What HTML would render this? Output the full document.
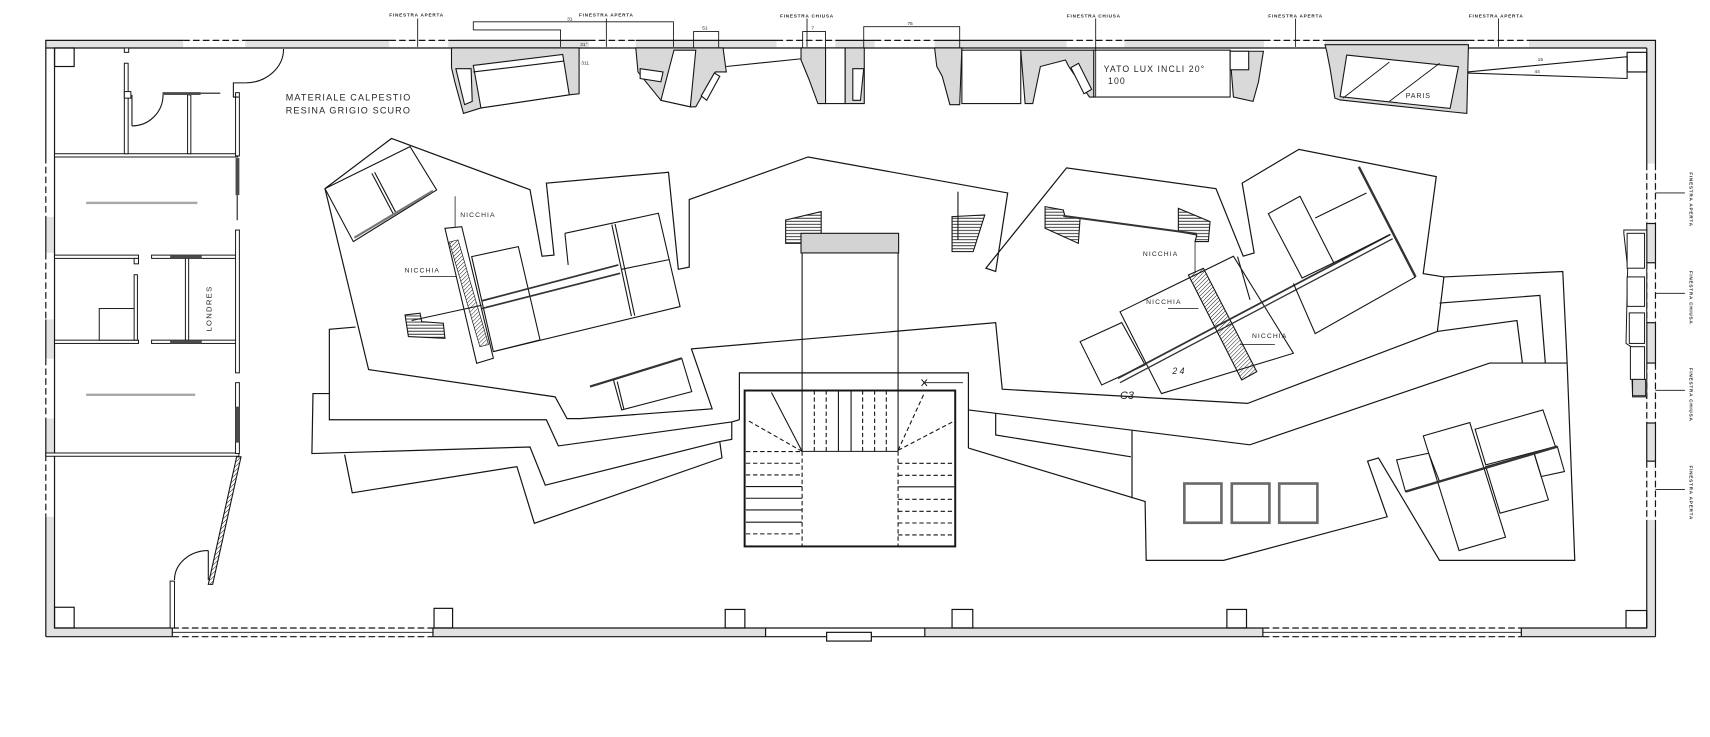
<!DOCTYPE html>
<html><head><meta charset="utf-8">
<style>
html,body{margin:0;padding:0;background:#fff;}
svg{display:block;}
text{font-family:"Liberation Sans",sans-serif;fill:#262626;stroke:none;}
</style></head><body>
<svg xmlns="http://www.w3.org/2000/svg" width="1710" height="737" viewBox="0 0 1568 676" preserveAspectRatio="none">
<defs>
<pattern id="h" width="2.6" height="2.6" patternUnits="userSpaceOnUse" patternTransform="rotate(45)"><line x1="0" y1="0" x2="0" y2="2.6" stroke="#222" stroke-width="0.9"/></pattern>
<pattern id="hz" width="4" height="2.8" patternUnits="userSpaceOnUse"><line x1="0" y1="1.4" x2="4" y2="1.4" stroke="#222" stroke-width="0.8"/></pattern>
</defs>
<rect x="0" y="0" width="1568" height="676" fill="#fff"/>

<!-- ===== OUTER WALLS ===== -->
<g stroke="none" fill="#e2e2e2">
<rect x="42" y="37" width="1476" height="7"/>
<rect x="42" y="144" width="8" height="432"/>
<rect x="1510" y="37" width="8" height="547"/>
<rect x="42" y="576" width="1476" height="8"/>
</g>
<g stroke="none" fill="#fff">
<rect x="168" y="37.6" width="57" height="5.8"/><rect x="357" y="37.6" width="54" height="5.8"/>
<rect x="540" y="37.6" width="43" height="5.8"/><rect x="712" y="37.6" width="54" height="5.8"/>
<rect x="802" y="37.6" width="55" height="5.8"/><rect x="978" y="37.6" width="53" height="5.8"/>
<rect x="1159" y="37.6" width="56" height="5.8"/><rect x="1346" y="37.6" width="56" height="5.8"/>
<rect x="42.6" y="144" width="6.8" height="55"/><rect x="42.6" y="232" width="6.8" height="61"/>
<rect x="42.6" y="329" width="6.8" height="55"/><rect x="42.6" y="417" width="6.8" height="57"/>
<rect x="1510.6" y="150" width="6.8" height="55"/><rect x="1510.6" y="241" width="6.8" height="55"/>
<rect x="1510.6" y="333" width="6.8" height="55"/><rect x="1510.6" y="423" width="6.8" height="54"/>
<rect x="158" y="576.6" width="239" height="6.8"/><rect x="702" y="576.6" width="146" height="6.8"/>
<rect x="1158" y="576.6" width="237" height="6.8"/>
</g>
<g fill="none" stroke="#151515" stroke-width="1.1">
<!-- top -->
<line x1="42" y1="44" x2="1510" y2="44"/>
<polyline points="42,584 42,37 168,37"/>
<line x1="225" y1="37" x2="357" y2="37"/><line x1="411" y1="37" x2="540" y2="37"/>
<line x1="583" y1="37" x2="712" y2="37"/><line x1="766" y1="37" x2="802" y2="37"/>
<line x1="857" y1="37" x2="978" y2="37"/><line x1="1031" y1="37" x2="1159" y2="37"/>
<line x1="1215" y1="37" x2="1346" y2="37"/><polyline points="1402,37 1518,37 1518,150"/>
<g stroke-dasharray="6,3">
<line x1="168" y1="37" x2="225" y2="37"/><line x1="357" y1="37" x2="411" y2="37"/>
<line x1="540" y1="37" x2="583" y2="37"/><line x1="712" y1="37" x2="766" y2="37"/>
<line x1="802" y1="37" x2="857" y2="37"/><line x1="978" y1="37" x2="1031" y2="37"/>
<line x1="1159" y1="37" x2="1215" y2="37"/><line x1="1346" y1="37" x2="1402" y2="37"/>
</g>
<!-- left (outer line dashed at windows) -->
<line x1="50" y1="44" x2="50" y2="576"/>
<g stroke="#fff" stroke-width="2"><line x1="42" y1="144" x2="42" y2="199"/><line x1="42" y1="232" x2="42" y2="293"/><line x1="42" y1="329" x2="42" y2="384"/><line x1="42" y1="417" x2="42" y2="474"/></g>
<g stroke-dasharray="6,3"><line x1="42" y1="144" x2="42" y2="199"/><line x1="42" y1="232" x2="42" y2="293"/><line x1="42" y1="329" x2="42" y2="384"/><line x1="42" y1="417" x2="42" y2="474"/></g>
<!-- right -->
<line x1="1518" y1="205" x2="1518" y2="241"/><line x1="1518" y1="296" x2="1518" y2="333"/>
<line x1="1518" y1="388" x2="1518" y2="423"/><line x1="1518" y1="477" x2="1518" y2="584"/>
<line x1="1510" y1="44" x2="1510" y2="150"/><line x1="1510" y1="205" x2="1510" y2="241"/>
<line x1="1510" y1="296" x2="1510" y2="333"/><line x1="1510" y1="388" x2="1510" y2="423"/>
<line x1="1510" y1="477" x2="1510" y2="576"/>
<line x1="1510" y1="205" x2="1518" y2="205"/><line x1="1510" y1="241" x2="1518" y2="241"/>
<line x1="1510" y1="296" x2="1518" y2="296"/><line x1="1510" y1="333" x2="1518" y2="333"/>
<line x1="1510" y1="388" x2="1518" y2="388"/><line x1="1510" y1="423" x2="1518" y2="423"/>
<g stroke-dasharray="6,3">
<line x1="1518" y1="150" x2="1518" y2="205"/><line x1="1510" y1="150" x2="1510" y2="205"/>
<line x1="1518" y1="241" x2="1518" y2="296"/><line x1="1510" y1="241" x2="1510" y2="296"/>
<line x1="1518" y1="333" x2="1518" y2="388"/><line x1="1510" y1="333" x2="1510" y2="388"/>
<line x1="1518" y1="423" x2="1518" y2="477"/><line x1="1510" y1="423" x2="1510" y2="477"/>
</g>
<!-- bottom -->
<line x1="42" y1="584" x2="158" y2="584"/><line x1="50" y1="576" x2="158" y2="576"/>
<line x1="397" y1="584" x2="1158" y2="584"/><line x1="397" y1="576" x2="1158" y2="576"/>
<line x1="1395" y1="584" x2="1518" y2="584"/><line x1="1395" y1="576" x2="1510" y2="576"/>
<line x1="158" y1="580" x2="397" y2="580" stroke-width="0.8"/><line x1="1158" y1="580" x2="1395" y2="580" stroke-width="0.8"/>
<line x1="158" y1="576" x2="158" y2="584"/><line x1="397" y1="576" x2="397" y2="584"/>
<line x1="1158" y1="576" x2="1158" y2="584"/><line x1="1395" y1="576" x2="1395" y2="584"/>
<line x1="702" y1="576" x2="702" y2="584"/><line x1="848" y1="576" x2="848" y2="584"/>
<g stroke-dasharray="6,3">
<line x1="158" y1="584" x2="397" y2="584"/><line x1="158" y1="576" x2="397" y2="576"/>
<line x1="1158" y1="584" x2="1395" y2="584"/><line x1="1158" y1="576" x2="1395" y2="576"/>
</g>
<rect x="758" y="580" width="41" height="8" fill="#fff"/>
<!-- corner squares & pillars -->
<rect x="50" y="44" width="18" height="17"/><rect x="50" y="557" width="18" height="19"/>
<rect x="1492" y="48" width="18" height="18"/><rect x="1491" y="560" width="19" height="16"/>
<rect x="398" y="558" width="17" height="18"/><rect x="665" y="559" width="18" height="17"/>
<rect x="873" y="559" width="19" height="17"/><rect x="1125" y="559" width="18" height="17"/>
</g>

<!-- ===== LEFT ROOMS ===== -->
<g fill="#fff" stroke="#151515" stroke-width="0.9">
<rect x="50" y="141" width="168" height="3"/>
<rect x="50" y="234" width="77" height="3"/><rect x="139" y="234" width="80" height="3"/>
<rect x="50" y="312" width="77" height="3"/><rect x="139" y="312" width="80" height="3"/>
<rect x="42" y="415.5" width="177" height="3"/>
<rect x="216" y="85" width="3.5" height="58"/>
<rect x="216" y="211" width="3.5" height="131"/>
<rect x="216" y="351" width="3.5" height="65"/>
<rect x="114" y="58" width="3.5" height="83"/>
<rect x="114" y="44" width="4" height="4"/>
<rect x="114" y="84" width="6" height="6"/>
<rect x="172" y="87" width="3" height="54"/>
<rect x="170" y="237" width="3" height="75"/>
<rect x="91" y="283" width="34" height="29"/>
<rect x="123" y="252" width="3" height="60"/>
<rect x="123" y="237" width="4" height="5"/>
<rect x="156" y="533" width="4" height="43"/>
</g>
<g fill="#4a4a4a" stroke="none">
<rect x="156" y="234" width="29" height="3"/><rect x="156" y="312" width="29" height="3"/>
<rect x="216" y="145" width="3.5" height="34"/><rect x="216" y="373" width="3.5" height="33"/>
<rect x="149" y="84.5" width="35" height="2.6"/>
</g>
<g fill="#a8a8a8" stroke="none"><rect x="79" y="185" width="102" height="2.2"/><rect x="79" y="361" width="100" height="2.2"/></g>
<g fill="none" stroke="#151515" stroke-width="1">
<line x1="217.5" y1="179" x2="217.5" y2="202"/>
<line x1="184" y1="85.5" x2="202" y2="85.5"/>
<polyline points="225,76 214,76 214,89 219,89"/>
<path d="M260,45 A35,31 0 0 1 225,76"/>
<path d="M121,115.5 A28.5,28.5 0 0 0 149.5,87"/><line x1="121" y1="87" x2="121" y2="115.5"/>
<path d="M160,532 A31,27 0 0 1 191,505"/><line x1="191" y1="505" x2="191" y2="532"/>
<polygon points="217,419 221,419 195,536 191,536" fill="url(#h)"/>
</g>
<text transform="translate(194,283) rotate(-90)" font-size="7" letter-spacing="1.2" text-anchor="middle">LONDRES</text>
<text x="262" y="92" font-size="8.3" letter-spacing="1.05">MATERIALE CALPESTIO</text>
<text x="262" y="104" font-size="8.3" letter-spacing="1.05">RESINA GRIGIO SCURO</text>

<!-- ===== TOP ALCOVES ===== -->
<g stroke="#151515" stroke-width="1" fill="#d9d9d9">
<polygon points="414,44 531,44 531,86 522,87 441,99 425,104 417,75 414,62"/>
<polygon points="434,60 516,50 522,87 441,99" fill="#fff"/>
<polygon points="418,63 432,63 433,93 426,96" fill="#fff"/>
<polygon points="583,44 663,44 666,66 656,66 638,98 633,98 606,92 585,66"/>
<polygon points="618,46 638,46 633,98 606,92" fill="#fff"/>
<polygon points="587,63 608,66 606,75 587,72" fill="#fff"/>
<polygon points="643,88 655,67 660,70 648,92" fill="#fff"/>
<polygon points="734.5,44 757,44 757,95 750,95 741.5,72 734.5,55"/>
<rect x="757" y="44" width="18" height="51" fill="#fff"/>
<rect x="775" y="44" width="17.5" height="51"/>
<polygon points="782,63 792,63 789,92 782,92" fill="#fff"/>
<polygon points="857,44 882,44 880,96 871,96 864,70 859,61"/>
<rect x="882" y="46" width="54" height="49" fill="#fff"/>
<polygon points="936,46 1003,46 1003,89 999,89 980,61 977,55 954,61 947,95 940,95"/>
<polygon points="982,62 989,58 1001,82 994,86" fill="#fff"/>
<rect x="1003" y="46" width="125" height="43" fill="#fff"/>
<polygon points="1128,47 1158.5,47 1154,75 1149,93 1131,89 1129,64"/>
<rect x="1128" y="47" width="17" height="17" fill="#fff"/>
<polygon points="1215,41 1346.5,41 1345,104 1329.7,102.5 1228.8,91.7 1224,90 1219.6,62.7 1216.6,47.4"/>
<polygon points="1234.9,50.5 1337.3,61.2 1329.7,99.4 1228.8,88.7" fill="#fff"/>
</g>
<g fill="none" stroke="#151515" stroke-width="1">
<line x1="434" y1="66" x2="517" y2="56"/>
<line x1="666" y1="61" x2="734" y2="54"/>
<line x1="1231.5" y1="90" x2="1274" y2="57" stroke-width="0.8"/>
<line x1="1274" y1="93" x2="1320" y2="58" stroke-width="0.8"/>
<polyline points="1346,66 1492,52 1492,72 1346,67"/>
<!-- dimension lines -->
<g stroke-width="0.8">
<polyline points="434,27.5 434,20 617.5,20 617.5,43"/>
<polyline points="434,27.5 514,27.5 514,43"/>
<polyline points="636,44 636,29 659,29 659,44"/>
<polyline points="736,44 736,29 757,29 757,44"/>
<polyline points="792,44 792,24.5 880,24.5 880,44"/>
<line x1="383" y1="17" x2="383" y2="43"/><line x1="556" y1="17" x2="556" y2="43"/>
<line x1="740" y1="17" x2="740" y2="43"/><line x1="1004.7" y1="17" x2="1004.7" y2="89"/>
<line x1="1188" y1="17" x2="1188" y2="43"/><line x1="1374" y1="17" x2="1374" y2="43"/>
<polyline points="1518,177 1545,177"/><polyline points="1518,269 1545,269"/>
<polyline points="1518,358 1545,358"/><polyline points="1518,449 1545,449"/>
</g>
</g>
<g font-size="4.3" letter-spacing="0.7" text-anchor="middle" font-weight="bold">
<text x="382" y="15">FINESTRA APERTA</text>
<text x="556" y="15">FINESTRA APERTA</text>
<text x="740" y="16">FINESTRA CHIUSA</text>
<text x="1003" y="16">FINESTRA CHIUSA</text>
<text x="1188" y="16">FINESTRA APERTA</text>
<text x="1372" y="16">FINESTRA APERTA</text>
<text transform="translate(1549,183) rotate(90)">FINESTRA APERTA</text>
<text transform="translate(1549,273) rotate(90)">FINESTRA CHIUSA</text>
<text transform="translate(1549,362) rotate(90)">FINESTRA CHIUSA</text>
<text transform="translate(1549,452) rotate(90)">FINESTRA APERTA</text>
</g>
<g font-size="4.5">
<text x="520" y="19">31</text><text x="532" y="42">31°</text><text x="533" y="59">311</text>
<text x="644" y="27">51</text><text x="744" y="27">7</text><text x="832" y="23">75</text>
<text x="1410" y="56">15</text><text x="1407" y="67">44</text>
</g>
<text x="1012" y="66" font-size="8" letter-spacing="1">YATO LUX INCLI 20°</text>
<text x="1016" y="77" font-size="8" letter-spacing="1">100</text>
<text x="1289" y="90" font-size="6.5" letter-spacing="0.8">PARIS</text>

<!-- right wall shelves -->
<g stroke="#151515" stroke-width="0.9" fill="#fff">
<polygon points="1489,211 1510,211 1510,364 1497,364 1495.6,318 1491,315 1492.5,246 1489,214"/>
<rect x="1492" y="214" width="16" height="32"/>
<rect x="1492" y="254" width="16" height="27"/>
<rect x="1494" y="287" width="14" height="28"/>
<rect x="1495" y="318" width="13" height="30"/>
<rect x="1497" y="348" width="12" height="15" fill="#cfcfcf"/>
</g>

<!-- ===== DISPLAY OUTLINES ===== -->
<g fill="none" stroke="#151515" stroke-width="1.1" stroke-linejoin="miter">
<polyline points="298,173 359,127 486,174 497,235 508,234 501,168 613,158 622,247 632,245 632,183 741,144 924,177 913,249 904,246 978,154 1115,173 1140,235 1150,232 1139,168 1191,137 1317,162 1305,251 1324,254 1433,249 1437,333"/>
<polyline points="1324,254 1318,304 1144,370 919,357 913,296 634,320 653,375 532,384 520,384 509,364 338,339 298,173"/>
<polyline points="1320,278 1412,271 1417,333"/>
<polyline points="1318,304 1391,294 1396,333"/>
<polyline points="888,376 1146,408 1366,333 1437,333"/>
<polyline points="1437,333 1444,514 1320,514 1264,420 1254,423 1272,474 1122,514 1051,514 1050,460 888,411"/>
<polyline points="913,379 913,399 1037,419"/>
<line x1="1038" y1="395" x2="1038" y2="457"/>
<polyline points="326,300 302,302 302,385 501,385 512,409 671,387 678,385"/>
<polyline points="302,361 287,361 286,416 486,410 500,445 660,405 671,403 671,387"/>
<polyline points="316,417 323,452 474,428 490,480 662,420 660,405"/>
<!-- stair frame -->
<polyline points="678,385 678,342 888,342 888,411"/>
</g>

<!-- ===== LEFT CLUSTER ===== -->
<g fill="none" stroke="#151515" stroke-width="1">
<polygon points="298,173 376,134.5 400.4,174.2 324,221.6"/>
<line x1="341" y1="159" x2="361" y2="197"/><line x1="343.5" y1="158" x2="363.5" y2="196"/>
<line x1="325" y1="218" x2="397" y2="175" stroke="#777" stroke-width="2"/>
<polygon points="408,209.4 423.4,207.9 452.4,328.6 437.1,333.2" fill="#fff"/>
<polygon points="412,222 420,220 448,316 440,318" fill="url(#h)" stroke-width="0.6"/>
<polygon points="432.5,235.4 475.3,226.2 495.2,311.8 452.4,322.5"/>
<polyline points="518,214 603.7,195.6 623.6,281.2 452.4,322.5"/>
<line x1="518" y1="214" x2="521" y2="243"/>
<line x1="561" y1="206" x2="579" y2="290"/><line x1="564" y1="205.5" x2="582" y2="289.5"/>
<line x1="570" y1="247" x2="614" y2="238"/>
<line x1="441.7" y1="276" x2="567" y2="243" stroke-width="1.6" stroke="#333"/>
<line x1="441.7" y1="283" x2="568.6" y2="250.7" stroke-width="1.6" stroke="#333"/>
<line x1="377.5" y1="294" x2="441.7" y2="280"/>
<polygon points="371.4,288.9 385.2,287.3 386.7,295 406.5,296.5 408,310.3 374.5,308.7" fill="url(#hz)"/>
<polygon points="562.5,348.5 625.1,328.6 634.3,359.2 570.1,376"/>
<line x1="541" y1="354.6" x2="625.1" y2="328.6" stroke-width="2" stroke="#333"/>
<line x1="566" y1="350" x2="572" y2="375"/>
<line x1="417.3" y1="180" x2="417.3" y2="208" stroke-width="0.7"/>
<line x1="385" y1="253.7" x2="418.8" y2="253.7" stroke-width="0.7"/>
</g>
<g font-size="6.2" letter-spacing="1">
<text x="422" y="199">NICCHIA</text>
<text x="371" y="250">NICCHIA</text>
<text x="1048" y="235">NICCHIA</text>
<text x="1051" y="279">NICCHIA</text>
<text x="1148" y="310">NICCHIA</text>
</g>

<!-- ===== CENTRE STAIR ===== -->
<g fill="none" stroke="#151515" stroke-width="1">
<polygon points="720.4,201.8 753,194.1 753,214 736.2,215.5 736.2,223.2 720.4,223.2" fill="url(#hz)"/>
<polygon points="873,198.7 903,197.2 892.4,230.8 873,230.8" fill="url(#hz)"/>
<line x1="878.4" y1="175.8" x2="878.4" y2="220"/>
<rect x="734.5" y="214" width="89.5" height="18" fill="#d3d3d3"/>
<line x1="735.5" y1="232" x2="735.5" y2="414"/><line x1="823.5" y1="232" x2="823.5" y2="414"/>
<rect x="682.8" y="358.2" width="193.1" height="143" stroke-width="1.8"/>
<line x1="735.5" y1="414" x2="823.5" y2="414"/>
<line x1="735.5" y1="414" x2="707.4" y2="360"/>
<line x1="768.8" y1="358" x2="768.8" y2="414"/><line x1="780.4" y1="358" x2="780.4" y2="414"/>
<line x1="684" y1="446.3" x2="735.5" y2="446.3"/><line x1="684" y1="457" x2="735.5" y2="457"/>
<line x1="684" y1="467.7" x2="735.5" y2="467.7"/><line x1="684" y1="479" x2="735.5" y2="479"/>
<line x1="823.5" y1="446.5" x2="875" y2="446.5"/>
<g stroke-dasharray="4,2.5">
<line x1="735.5" y1="414" x2="735.5" y2="501"/><line x1="823.5" y1="414" x2="823.5" y2="501"/>
<line x1="735.5" y1="414" x2="684.6" y2="385"/>
<line x1="823.5" y1="413" x2="847.8" y2="360"/><line x1="823.5" y1="413" x2="874" y2="386.7"/>
<line x1="746.7" y1="358" x2="746.7" y2="414"/><line x1="757.6" y1="358" x2="757.6" y2="414"/>
<line x1="791" y1="358" x2="791" y2="414"/><line x1="802" y1="358" x2="802" y2="414"/>
<line x1="812.7" y1="358" x2="812.7" y2="414"/>
<line x1="684" y1="414.2" x2="735.5" y2="414.2"/><line x1="684" y1="424.9" x2="735.5" y2="424.9"/>
<line x1="684" y1="435.6" x2="735.5" y2="435.6"/><line x1="684" y1="489.7" x2="735.5" y2="489.7"/>
<line x1="823.5" y1="425" x2="875" y2="425"/><line x1="823.5" y1="436" x2="875" y2="436"/>
<line x1="823.5" y1="458" x2="875" y2="458"/><line x1="823.5" y1="469" x2="875" y2="469"/>
<line x1="823.5" y1="479.7" x2="875" y2="479.7"/><line x1="823.5" y1="490.7" x2="875" y2="490.7"/>
</g>
<path d="M845,348 l5,6 M850,348 l-5,6" stroke-width="0.9"/>
<line x1="847" y1="351" x2="883" y2="351" stroke-width="0.8"/>
</g>

<!-- ===== RIGHT CLUSTER ===== -->
<g fill="none" stroke="#151515" stroke-width="1">
<polygon points="958.3,189.5 975,192.6 976.6,198.7 990.4,200.2 988.8,223.2 958.3,209.4" fill="url(#hz)"/>
<polygon points="1080.5,191.1 1109.6,203.3 1108,221.6 1095.8,221.6 1097.4,215.5 1080.5,212.5" fill="url(#hz)"/>
<line x1="975" y1="198" x2="1097.4" y2="214.5" stroke-width="1.8" stroke="#333"/>
<line x1="1095.8" y1="221.6" x2="1095.8" y2="249.2" stroke-width="0.7"/>
<polygon points="990.4,313.3 1028.6,295.9 1050,334.7 1010.2,353.1"/>
<polygon points="1027,286 1131,235 1186,324 1065,361"/>
<line x1="1134.8" y1="235.4" x2="1146.2" y2="275"/>
<polygon points="1089.7,252.2 1103.5,246.1 1152.4,340.9 1138.6,348.5" fill="url(#h)"/>
<line x1="1025" y1="347" x2="1275" y2="215" stroke-width="1.6" stroke="#333"/>
<line x1="1027" y1="351" x2="1277" y2="219" stroke-width="1.2" stroke="#333"/>
<polygon points="1163,196 1192,180 1223,241 1194,255"/>
<line x1="1206" y1="200" x2="1253" y2="177"/>
<line x1="1223" y1="241" x2="1273" y2="216"/>
<line x1="1246" y1="153" x2="1298" y2="254" stroke-width="2.2" stroke="#333"/>
<polyline points="1298,254 1206,306 1186,260"/>
<line x1="1071" y1="283" x2="1099" y2="283" stroke-width="0.7"/>
<line x1="1169" y1="316" x2="1137" y2="316" stroke-width="0.7"/>
</g>
<text x="1027" y="366" font-size="10" fill="#555" font-style="italic">C3</text>
<text x="1075" y="343" font-size="8" fill="#777" font-style="italic">2 4</text>

<!-- lower right -->
<g fill="none" stroke="#151515" stroke-width="1">
<polygon points="1280.6,421.8 1310,415.7 1320,441.7 1288.8,450.9"/>
<polygon points="1305.1,399.8 1347.7,387.6 1380.5,492.7 1337.9,505"/>
<polygon points="1352.6,393.7 1414.8,376 1426.3,409.6 1362.4,426.4"/>
<polygon points="1362.4,428 1406.7,415.7 1419.8,458.5 1375.5,470.7"/>
<polygon points="1406.7,415.7 1428,409.6 1434.5,432.5 1413.2,437.1"/>
<line x1="1288.8" y1="450.9" x2="1428" y2="409.6" stroke-width="2.2" stroke="#333"/>
</g>
<g fill="none" stroke="#6a6a6a" stroke-width="2.4">
<rect x="1086" y="443.5" width="34" height="36"/>
<rect x="1129.5" y="443.5" width="34.5" height="36"/>
<rect x="1173" y="443.5" width="35" height="36"/>
</g>
</svg>
</body></html>
